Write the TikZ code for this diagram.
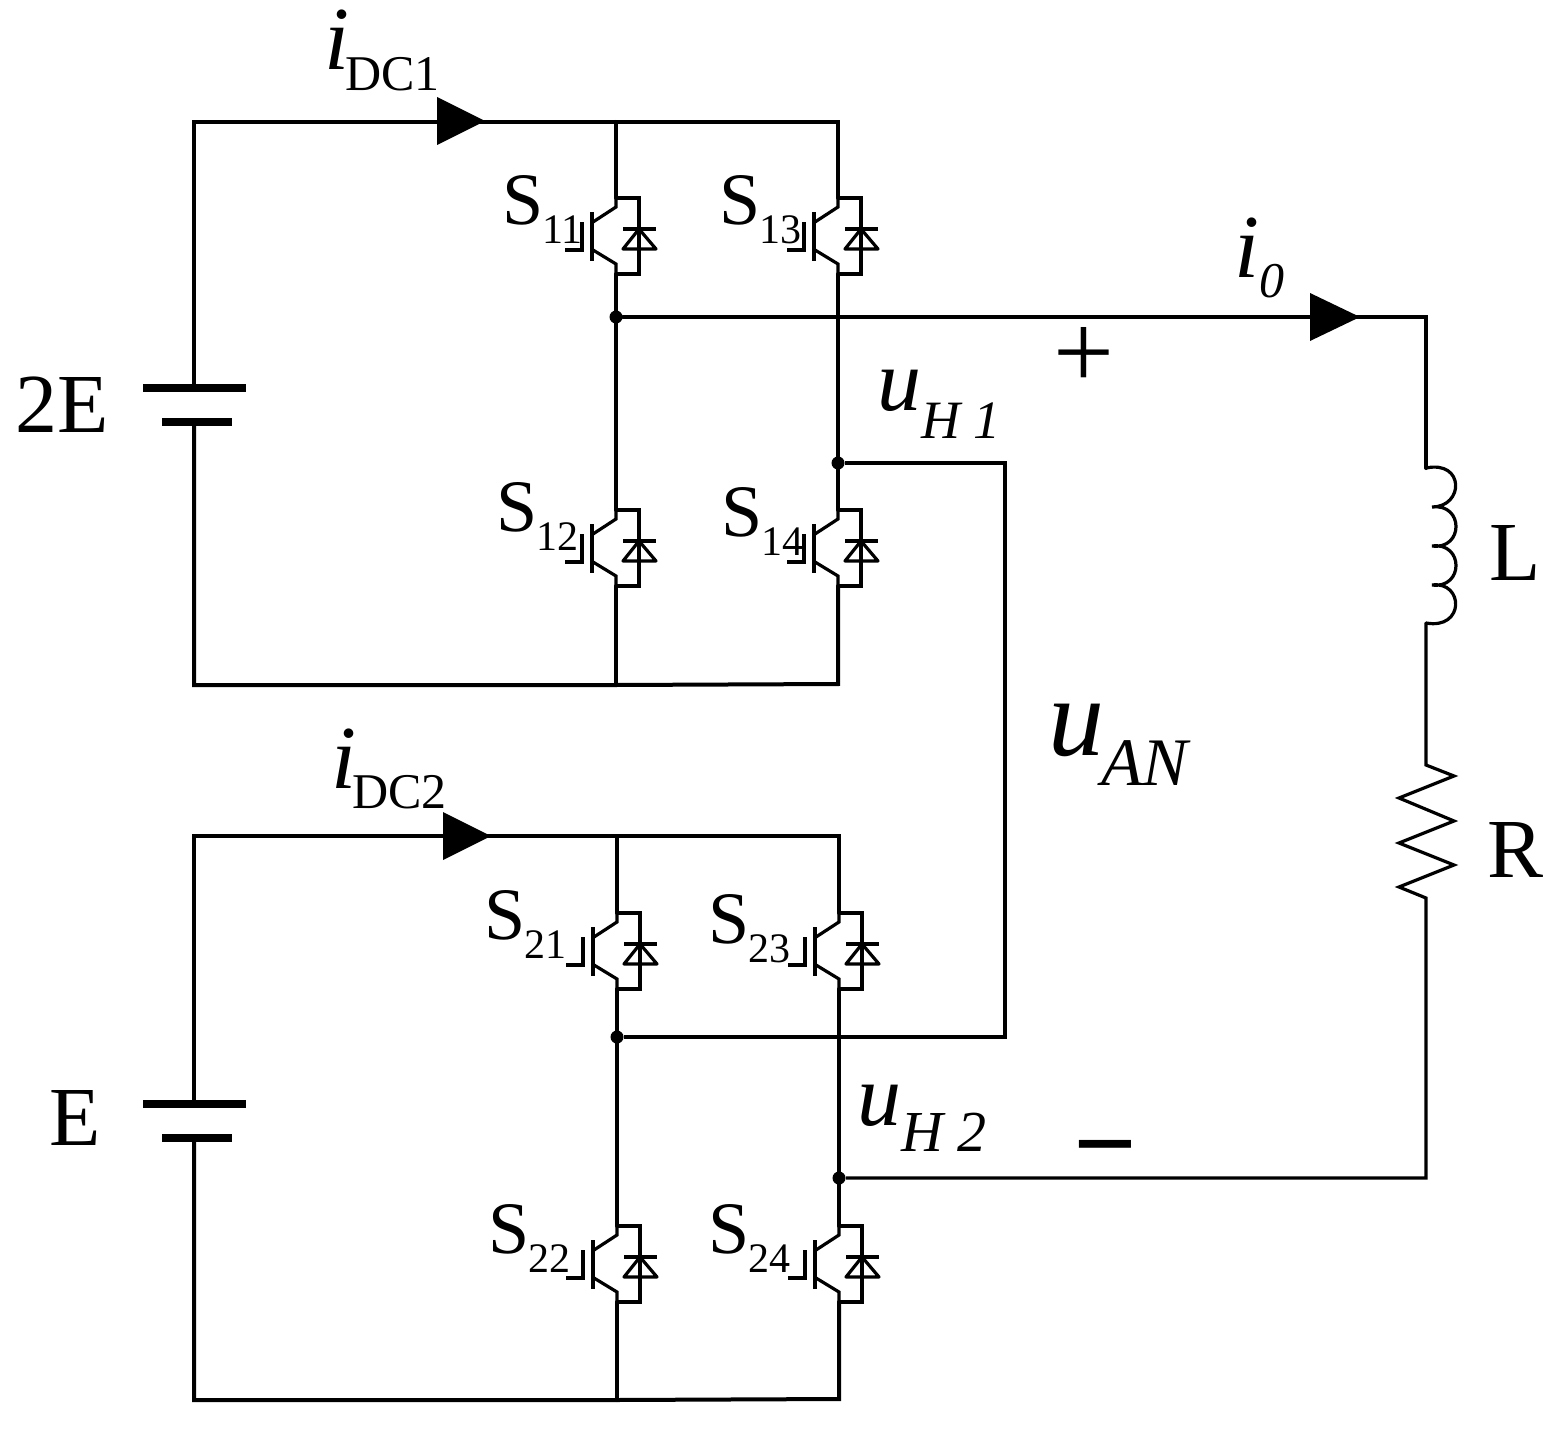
\documentclass[tikz,border=0pt]{standalone}
\usepackage{fontspec}
\setmainfont{Liberation Serif}
\newcommand{\SwLabel}[2]{{\fontsize{37}{40}\selectfont #1}\hspace{-0.5pt}\raisebox{-9.5pt}{\fontsize{21}{24}\selectfont #2}}
\newcommand{\CurLabel}[2]{{\fontsize{45}{48}\selectfont\itshape #1}\hspace{-2pt}\raisebox{-10pt}{\fontsize{25}{28}\selectfont #2}}
\newcommand{\VLabel}[5]{{\fontsize{#1}{48}\selectfont\itshape #3}\raisebox{#4}{\fontsize{#2}{28}\selectfont\itshape #5}}
\tikzset{
  wire/.style={line width=2pt,line cap=round,line join=miter},
  thin wire/.style={line width=1.6pt,line join=miter},
  junction/.style={circle,fill=black,inner sep=0pt,minimum size=6.5pt},
  txt/.style={anchor=base west,inner sep=0pt,outer sep=0pt},
  big/.style={txt,font=\fontsize{42}{46}\selectfont},
  igbt/.pic={
    \coordinate (-c) at (0,-38);
    \coordinate (-e) at (0,38);
    \draw[thin wire] (0,-38) -- (23,-38) -- (23,38) -- (0,38);
    \draw[thin wire] (0,-38) -- (0,-29) -- (-23,-14);
    \draw[thin wire] (0,38) -- (0,28) -- (-23,14);
    \draw[line width=2pt] (-24,-24) -- (-24,25);
    \draw[thin wire] (-34,-14) -- (-34,14) -- (-51,14);
    \draw[thin wire] (7,-7) -- (40,-7);
    \draw[thin wire,line join=round] (23,-7) -- (7,13) -- (40,13) -- cycle;
  },
  battery long/.style={line width=4pt},
  battery short/.style={line width=4pt},
  arrowtri/.style={fill=black},
}
\begin{document}
\begin{tikzpicture}[x=0.5pt,y=-0.5pt]
\useasboundingbox (0,0) rectangle (1564,1434);

% switches
\pic (s11) at (616,236) {igbt};
\pic (s13) at (838,236) {igbt};
\pic (s12) at (616,548) {igbt};
\pic (s14) at (838,548) {igbt};
\pic (s21) at (617,951) {igbt};
\pic (s23) at (839,951) {igbt};
\pic (s22) at (617,1264) {igbt};
\pic (s24) at (839,1264) {igbt};

% corner points
\coordinate (tl1) at (194,122);
\coordinate (tm1) at (616,122);
\coordinate (tr1) at (838,122);
\coordinate (bl1) at (194,685);
\coordinate (bm1) at (616,685);
\coordinate (br1) at (838,684);
\coordinate (tl2) at (194,836);
\coordinate (tm2) at (617,836);
\coordinate (tr2) at (839,836);
\coordinate (bl2) at (194,1400);
\coordinate (bm2) at (617,1400);
\coordinate (br2) at (839,1399);
\coordinate (bp1a) at (194,388);
\coordinate (bp1b) at (194,422);
\coordinate (bp2a) at (194,1104);
\coordinate (bp2b) at (194,1138);

% junctions
\node[junction] (j1) at (616,317) {};
\node[junction] (j2) at (838,463) {};
\node[junction] (j3) at (617,1037) {};
\node[junction] (j4) at (839,1178) {};

\coordinate (loadT) at (1426,317);
\coordinate (loadB) at (1426,1178);
\coordinate (bridgeT) at (1005,463);
\coordinate (bridgeB) at (1005,1037);
\coordinate (indT) at (1426,468);
\coordinate (indB) at (1426,623);
\coordinate (resT) at (1426,765);
\coordinate (resB) at (1426,898);

% batteries
\draw[wire] (bp1a) -- (tl1) -- (tr1) -- (s13-c);
\draw[wire] (tm1) -- (s11-c);
\draw[wire] (bp1b) -- (bl1) -- (bm1) -- (br1) -- (s14-e);
\draw[wire] (bm1) -- (s12-e);
\draw[wire] (s11-e) -- (s12-c);
\draw[wire] (s13-e) -- (s14-c);
\draw[battery long] (143,388) -- (246,388);
\draw[battery short] (162,422) -- (232,422);

\draw[wire] (bp2a) -- (tl2) -- (tr2) -- (s23-c);
\draw[wire] (tm2) -- (s21-c);
\draw[wire] (bp2b) -- (bl2) -- (bm2) -- (br2) -- (s24-e);
\draw[wire] (bm2) -- (s22-e);
\draw[wire] (s21-e) -- (s22-c);
\draw[wire] (s23-e) -- (s24-c);
\draw[battery long] (143,1104) -- (246,1104);
\draw[battery short] (162,1138) -- (232,1138);

% load branch
\draw[wire] (j1) -- (loadT) -- (indT);
\draw[thin wire,line cap=round] (indT) .. controls (1465,460) and (1464,507) .. (1432,507)
  .. controls (1464,503) and (1464,550) .. (1432,546)
  .. controls (1464,542) and (1464,589) .. (1432,585)
  .. controls (1464,581) and (1465,630) .. (indB);
\draw[thin wire] (indB) -- (resT) -- (1454,776) -- (1399,798) -- (1454,821) -- (1399,843) -- (1454,865) -- (1399,887) -- (resB) -- (loadB) -- (j4);
\draw[thin wire] (j2) -- (bridgeT) -- (bridgeB) -- (j3);

% current arrows
\fill[arrowtri] (437,97) -- (485,121) -- (437,145) -- cycle;
\fill[arrowtri] (443,812) -- (491,836) -- (443,860) -- cycle;
\fill[arrowtri] (1310,293) -- (1360,317) -- (1310,341) -- cycle;

% labels
\node[txt] (ls11) at (502,224) {\SwLabel{S}{11}};
\node[txt] (ls13) at (719,224) {\SwLabel{S}{13}};
\node[txt] (ls12) at (496,531) {\SwLabel{S}{12}};
\node[txt] (ls14) at (721,536) {\SwLabel{S}{14}};
\node[txt] (ls21) at (484,939) {\SwLabel{S}{21}};
\node[txt] (ls23) at (708,943) {\SwLabel{S}{23}};
\node[txt] (ls22) at (488,1253) {\SwLabel{S}{22}};
\node[txt] (ls24) at (708,1253) {\SwLabel{S}{24}};

\node[big] (v1) at (16,432) {2E};
\node[big] (v2) at (49,1145) {E};
\node[big] (ll) at (1489,580) {L};
\node[big] (lr) at (1487,877) {R};

\node[txt] (idc1) at (324,70) {\CurLabel{i}{DC1}};
\node[txt] (idc2) at (331,788) {\CurLabel{i}{DC2}};
\node[txt] (i0) at (1234,277) {\VLabel{45pt}{25pt}{i}{-10pt}{0}};
\node[txt] (uh1) at (877,410) {\VLabel{44pt}{27pt}{u}{-14pt}{H 1}};
\node[txt] (uh2) at (857,1125) {\VLabel{44pt}{29pt}{u}{-13pt}{H 2}};
\node[txt] (uan) at (1048,755) {\VLabel{56pt}{34pt}{u}{-15pt}{\hspace{-1.5pt}AN}};

\node[inner sep=0pt,font=\fontsize{54}{54}\selectfont] (plus) at (1084,358) {+};
\node[inner sep=0pt,font=\bfseries\fontsize{56}{56}\selectfont] (minus) at (1105,1161) {\textminus};
\end{tikzpicture}
\end{document}
